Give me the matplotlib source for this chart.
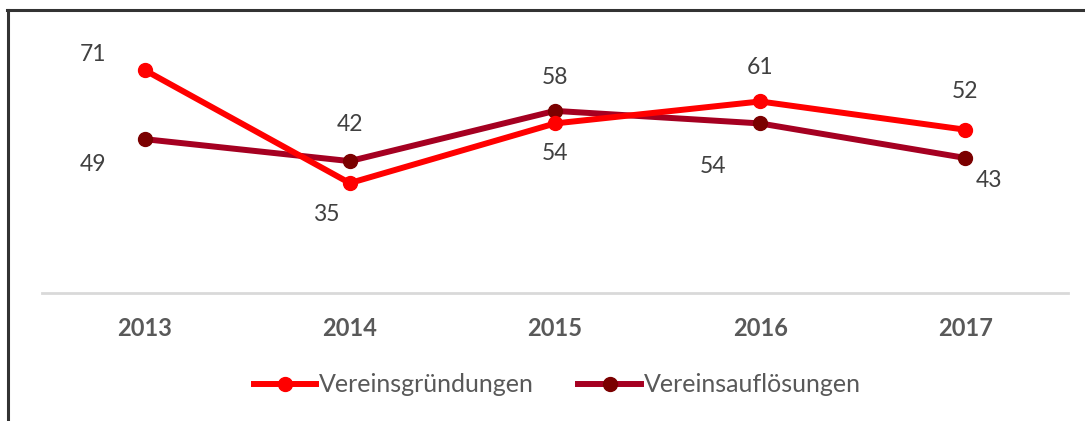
import matplotlib.pyplot as plt
from matplotlib.lines import Line2D

plt.rcParams["font.family"] = ["Lato", "DejaVu Sans"]

years = ["2013", "2014", "2015", "2016", "2017"]
gruendungen = [71, 35, 54, 61, 52]
aufloesungen = [49, 42, 58, 54, 43]

# label offsets in pixels (dx, dy)
off_gr = [(-52, 16), (-24, -31), (0, -30), (0, 34), (0, 38)]
off_au = [(-52, -25), (0, 37), (0, 33), (-47, -43), (24, -23)]

red = "#FF0000"
dark_line = "#A50021"
dark_marker = "#7B0000"
txt = "#404040"

fig = plt.figure(figsize=(10.85, 4.21), dpi=100)
ax = fig.add_axes([42 / 1085, 1 - 293 / 421, 1026 / 1085, 250 / 421])
x = range(len(years))

ax.plot(x, gruendungen, color=red, lw=4.3, marker="o", ms=10,
        mfc=red, mec=red, label="Vereinsgründungen", zorder=3)
ax.plot(x, aufloesungen, color=dark_line, lw=4.3, marker="o", ms=10,
        mfc=dark_marker, mec=dark_marker, label="Vereinsauflösungen", zorder=2)

for i, v in enumerate(gruendungen):
    ax.annotate(str(v), (i, v), xytext=off_gr[i], textcoords="offset pixels",
                ha="center", va="center", fontsize=16.5, color=txt)
for i, v in enumerate(aufloesungen):
    ax.annotate(str(v), (i, v), xytext=off_au[i], textcoords="offset pixels",
                ha="center", va="center", fontsize=16.5, color=txt)

ax.set_xlim(-0.5, len(years) - 0.5)
ax.set_ylim(0, 250 / 3.14)
ax.set_xticks(list(x))
ax.set_xticklabels(years, fontsize=17, fontweight="bold", color="#595959")
ax.tick_params(axis="x", length=0, pad=17)
ax.set_yticks([])
for s in ["top", "left", "right"]:
    ax.spines[s].set_visible(False)
ax.spines["bottom"].set_color("#D9D9D9")
ax.spines["bottom"].set_linewidth(2)

fig.legend(loc="center", bbox_to_anchor=(557 / 1085, 1 - 385 / 421), ncol=2,
           frameon=False, fontsize=18, labelcolor="#595959",
           handlelength=2.5, handletextpad=0.1, columnspacing=1.8)

# outer frame (left and top only)
fig.add_artist(Line2D([8 / 1085, 8 / 1085], [0, 1 - 10 / 421],
                      transform=fig.transFigure, color="#333333", lw=2.2))
fig.add_artist(Line2D([7 / 1085, 1], [1 - 10 / 421, 1 - 10 / 421],
                      transform=fig.transFigure, color="#333333", lw=2.2))

fig.savefig("out.png", dpi=100)
